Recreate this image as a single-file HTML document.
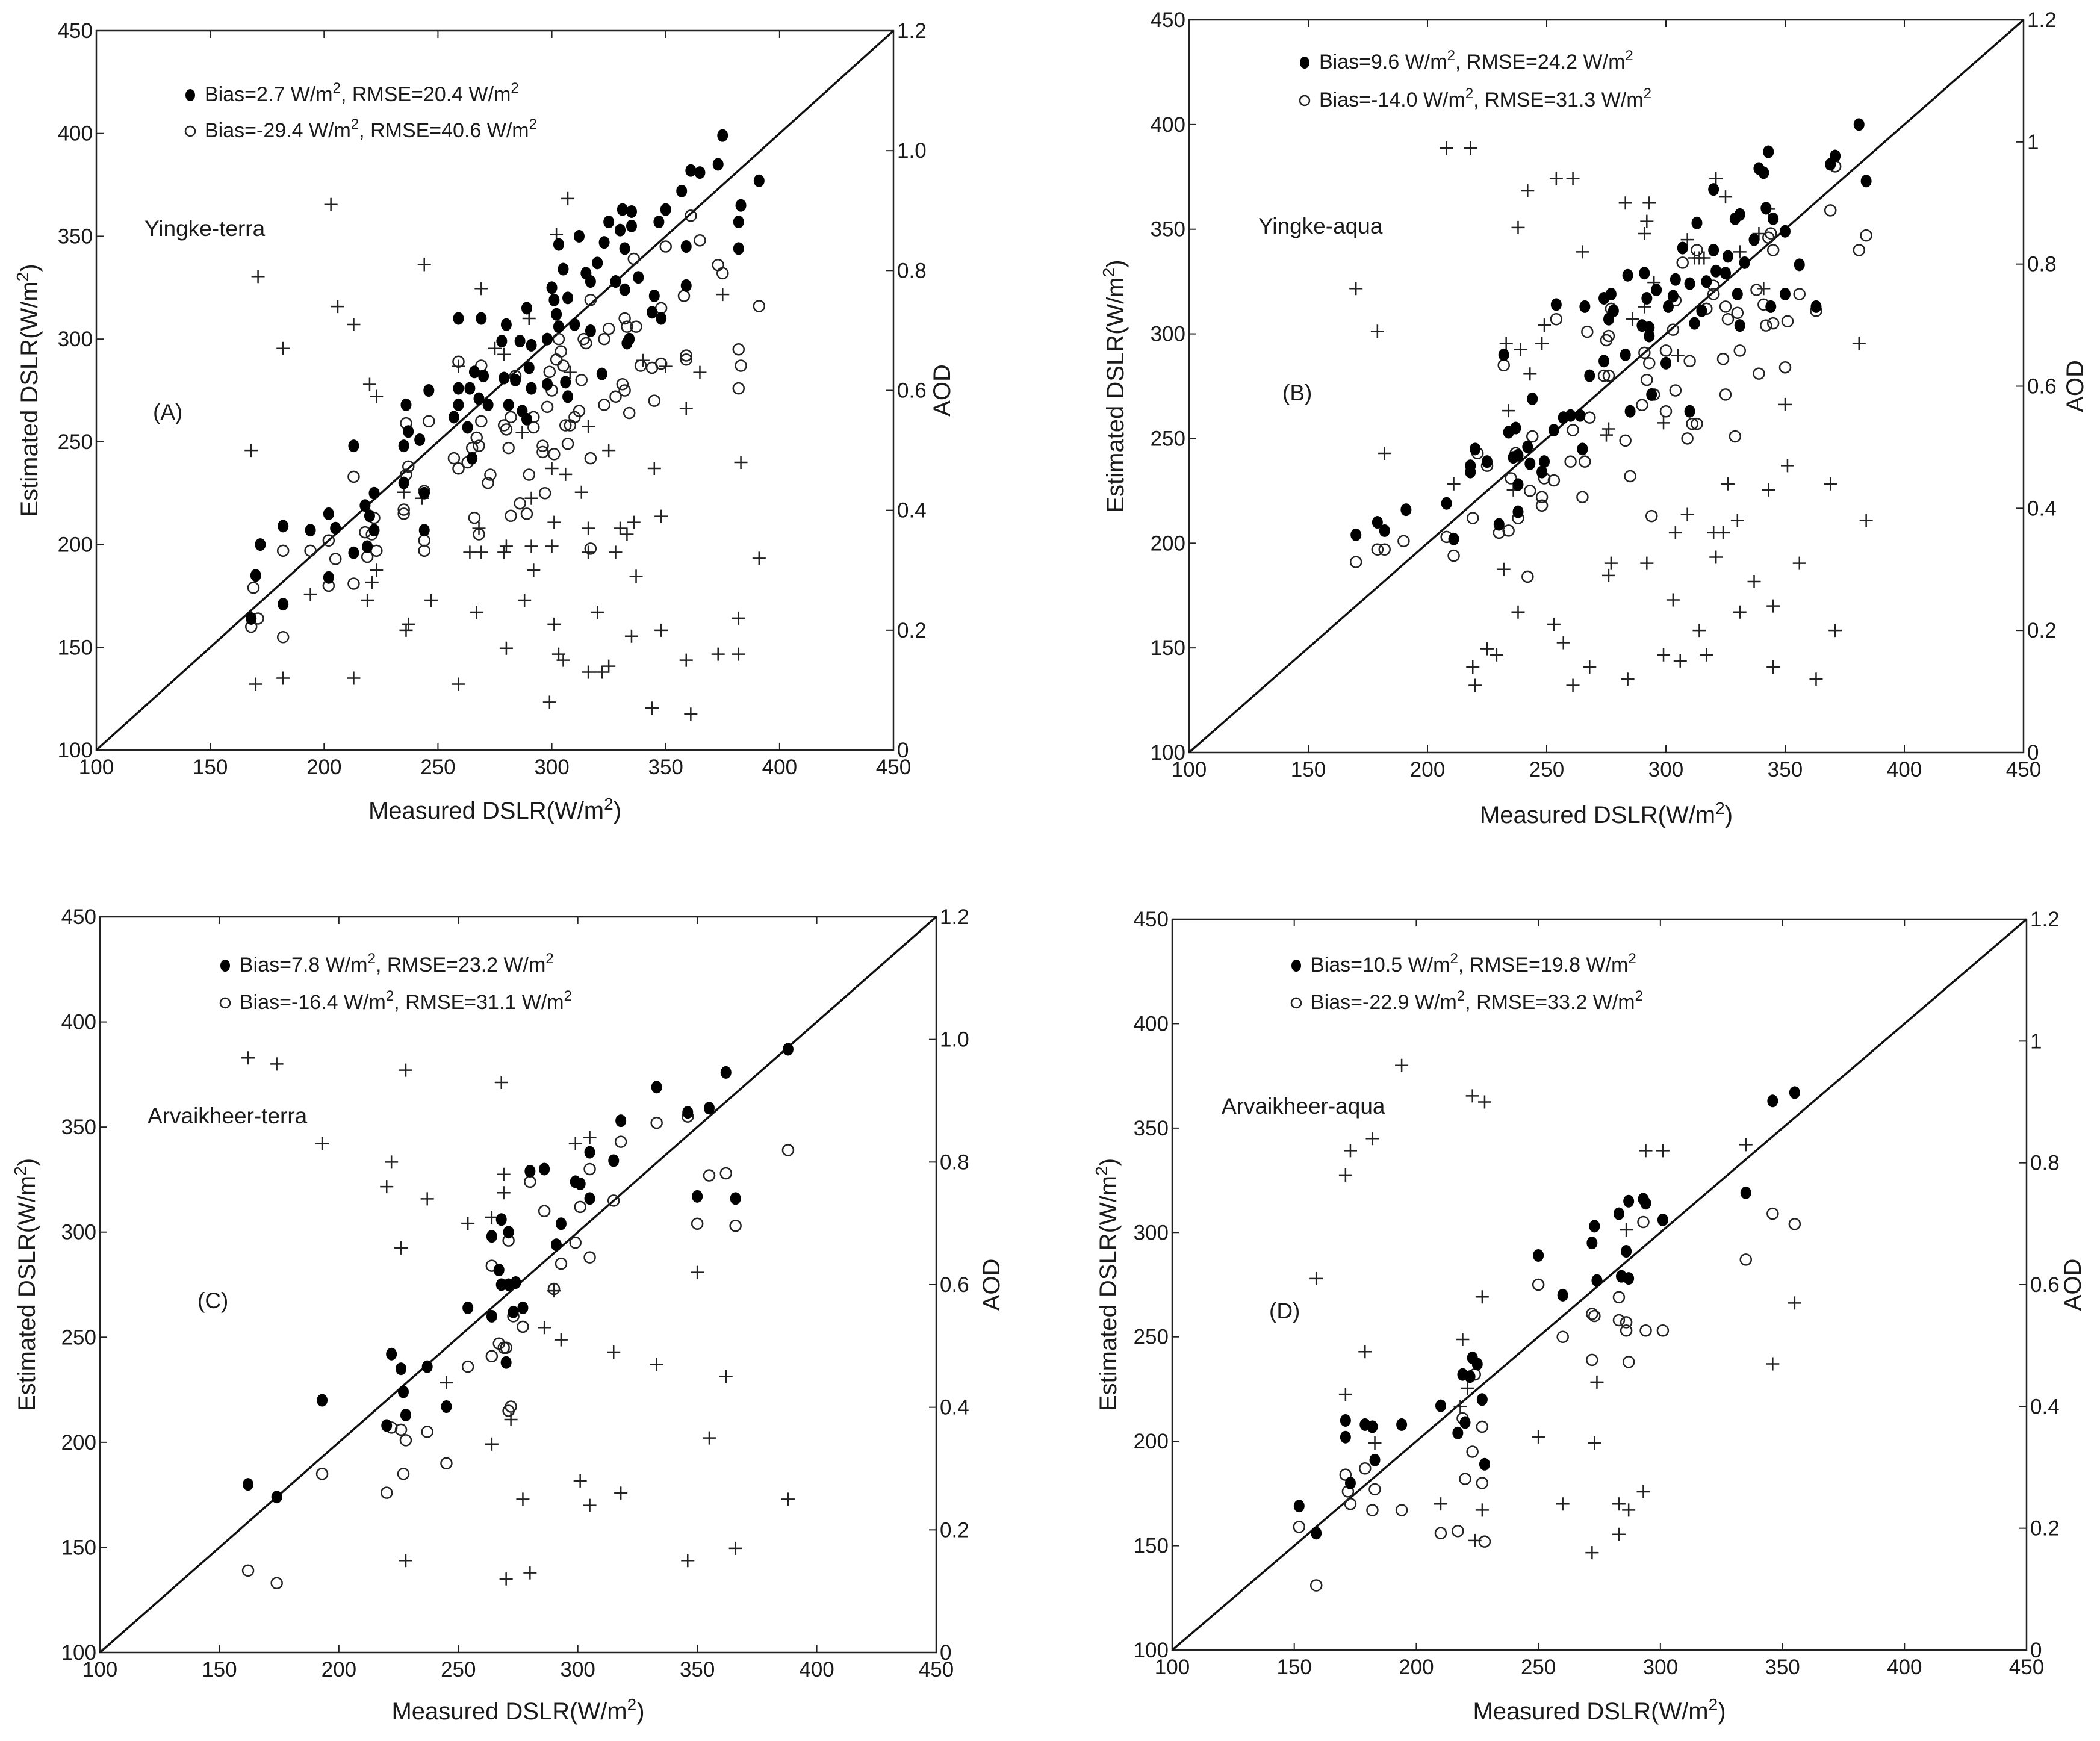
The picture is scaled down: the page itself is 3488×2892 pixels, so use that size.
<!DOCTYPE html>
<html><head><meta charset="utf-8"><style>
html,body{margin:0;padding:0;background:#fff}
svg{display:block}
text{font-family:"Liberation Sans",Arial,sans-serif;fill:#1a1a1a}
</style></head>
<body>
<svg id="chart" xmlns="http://www.w3.org/2000/svg" width="3488" height="2892" viewBox="0 0 3488 2892"></svg>
<script>
// Panel A: Yingke-terra  [measured, estimated] ; crosses [measured, AOD]
const aFilled = [[168,164],[170,185],[172,200],[182,171],[182,209],[194,207],[202,184],[202,215],[205,208],[213,196],[213,248],[218,219],[219,199],[220,214],[222,225],[222,207],[235,230],[235,248],[236,268],[237,255],[242,251],[244,225],[244,207],[246,275],[257,262],[259,276],[259,268],[259,310],[263,257],[264,276],[265,242],[266,284],[268,271],[269,310],[270,282],[272,268],[278,299],[279,281],[280,307],[281,268],[284,280],[286,299],[287,265],[289,315],[289,261],[290,286],[291,297],[291,276],[298,278],[298,300],[300,325],[301,319],[302,312],[303,306],[303,346],[305,334],[306,279],[307,272],[307,320],[310,307],[312,350],[315,332],[317,328],[317,304],[320,337],[322,283],[323,347],[325,357],[328,328],[330,353],[331,363],[332,324],[332,344],[333,298],[334,300],[335,355],[335,362],[338,330],[344,313],[345,321],[347,357],[348,310],[350,363],[357,372],[359,345],[359,326],[361,382],[365,381],[373,385],[375,399],[382,344],[382,357],[383,365],[391,377]];
const aOpen = [[168,160],[169,179],[171,164],[182,197],[182,155],[194,197],[202,202],[202,180],[205,193],[213,181],[213,233],[218,206],[219,194],[221,205],[222,213],[223,197],[235,215],[235,217],[236,234],[237,238],[236,259],[244,226],[244,202],[244,197],[246,260],[257,242],[259,237],[259,289],[263,240],[265,247],[267,252],[268,248],[269,260],[269,287],[272,230],[273,234],[266,213],[268,205],[279,258],[280,256],[281,247],[282,262],[282,214],[284,282],[286,220],[289,215],[290,234],[292,257],[292,262],[296,248],[296,245],[297,225],[298,267],[299,284],[300,275],[301,244],[302,290],[303,300],[304,294],[305,287],[306,258],[307,249],[308,258],[310,262],[312,265],[313,280],[314,300],[315,298],[317,242],[317,198],[317,319],[323,268],[323,300],[325,305],[328,272],[331,278],[332,275],[332,310],[333,306],[334,264],[336,339],[337,306],[339,287],[344,286],[345,270],[348,288],[348,315],[350,345],[358,321],[359,290],[359,292],[361,360],[365,348],[373,336],[375,332],[382,276],[382,295],[383,287],[391,316]];
const aAod = [[168,0.50],[170,0.11],[171,0.79],[182,0.67],[182,0.12],[194,0.26],[203,0.91],[206,0.74],[213,0.71],[213,0.12],[219,0.25],[220,0.61],[221,0.28],[223,0.59],[223,0.30],[235,0.43],[236,0.20],[237,0.21],[243,0.42],[244,0.81],[247,0.25],[259,0.64],[259,0.11],[264,0.33],[267,0.23],[268,0.37],[269,0.33],[269,0.77],[275,0.67],[279,0.66],[279,0.33],[280,0.17],[280,0.34],[287,0.53],[288,0.25],[290,0.72],[291,0.42],[291,0.34],[292,0.30],[299,0.08],[300,0.47],[300,0.34],[301,0.38],[301,0.21],[302,0.86],[303,0.16],[305,0.15],[306,0.46],[307,0.92],[308,0.63],[313,0.43],[316,0.37],[316,0.33],[316,0.13],[316,0.54],[320,0.23],[322,0.13],[325,0.14],[325,0.50],[328,0.33],[330,0.37],[333,0.36],[335,0.19],[336,0.38],[337,0.29],[340,0.65],[344,0.07],[345,0.47],[348,0.39],[348,0.20],[350,0.64],[359,0.57],[359,0.15],[361,0.06],[365,0.63],[373,0.16],[375,0.76],[382,0.16],[382,0.22],[383,0.48],[391,0.32]];

// Panel B: Yingke-aqua
const bFilled = [[170,204],[179,210],[182,206],[191,216],[208,219],[211,202],[218,237],[218,234],[220,245],[225,239],[230,209],[232,290],[234,253],[236,241],[237,255],[238,242],[238,228],[238,215],[242,246],[243,238],[244,269],[248,234],[249,239],[253,254],[254,314],[257,260],[260,261],[264,261],[265,245],[266,313],[268,280],[274,287],[274,317],[276,307],[277,319],[278,311],[283,290],[284,328],[285,263],[290,304],[291,329],[292,317],[293,299],[293,303],[294,271],[296,321],[300,286],[301,313],[303,318],[304,326],[307,341],[310,324],[310,263],[312,305],[313,353],[315,311],[317,325],[320,369],[320,340],[321,330],[325,329],[326,337],[329,355],[330,319],[331,304],[331,357],[333,334],[337,345],[339,379],[341,377],[342,360],[343,387],[344,313],[345,355],[350,349],[350,319],[356,333],[363,313],[369,381],[371,385],[381,400],[384,373]];
const bOpen = [[170,191],[179,197],[182,197],[190,201],[208,203],[211,194],[219,212],[221,243],[225,237],[230,205],[232,285],[234,206],[235,231],[237,243],[238,212],[242,184],[243,225],[244,251],[248,222],[248,218],[249,231],[253,230],[254,307],[260,239],[261,254],[265,222],[266,239],[267,301],[268,260],[274,280],[275,297],[276,299],[276,280],[277,312],[283,249],[285,232],[290,266],[291,291],[292,278],[293,286],[294,213],[295,271],[300,263],[300,292],[303,302],[304,273],[304,316],[307,334],[309,250],[310,287],[311,257],[313,340],[313,257],[317,312],[320,319],[320,323],[324,288],[325,313],[325,271],[326,307],[329,251],[330,310],[331,292],[338,321],[339,281],[341,314],[342,304],[343,346],[344,348],[345,340],[345,305],[350,284],[351,306],[356,319],[363,311],[369,359],[371,380],[381,340],[384,347]];
const bAod = [[170,0.76],[179,0.69],[182,0.49],[208,0.99],[218,0.99],[211,0.44],[219,0.14],[220,0.11],[225,0.17],[229,0.16],[232,0.30],[233,0.67],[234,0.56],[236,0.43],[238,0.23],[238,0.86],[239,0.66],[242,0.92],[243,0.62],[248,0.67],[249,0.70],[253,0.21],[254,0.94],[257,0.18],[261,0.94],[261,0.11],[265,0.82],[268,0.14],[275,0.52],[276,0.29],[276,0.53],[277,0.31],[283,0.90],[284,0.12],[286,0.71],[291,0.85],[291,0.73],[292,0.31],[292,0.87],[293,0.90],[295,0.77],[299,0.54],[299,0.16],[303,0.25],[304,0.36],[305,0.65],[306,0.15],[309,0.39],[309,0.84],[312,0.81],[314,0.20],[317,0.16],[320,0.36],[321,0.32],[321,0.94],[324,0.36],[325,0.91],[326,0.44],[330,0.38],[331,0.23],[331,0.82],[337,0.28],[339,0.85],[341,0.76],[343,0.43],[343,0.89],[345,0.24],[345,0.14],[350,0.57],[351,0.47],[356,0.31],[363,0.12],[369,0.44],[371,0.20],[381,0.67],[384,0.38],[314,0.81],[316,0.81]];

// Panel C: Arvaikheer-terra
const cFilled = [[162,180],[174,174],[193,220],[220,208],[222,242],[226,235],[227,224],[228,213],[237,236],[245,217],[254,264],[264,260],[264,298],[267,282],[268,306],[268,275],[270,238],[271,300],[271,275],[273,262],[274,276],[277,264],[280,329],[286,330],[291,294],[293,304],[299,324],[301,323],[305,338],[305,316],[315,334],[318,353],[333,369],[346,357],[350,317],[355,359],[362,376],[366,316],[388,387]];
const cOpen = [[162,139],[174,133],[193,185],[220,176],[222,207],[226,206],[227,185],[228,201],[237,205],[245,190],[254,236],[264,284],[264,241],[267,247],[269,245],[270,245],[271,296],[271,215],[272,217],[273,260],[277,255],[280,324],[286,310],[290,273],[293,285],[299,295],[301,312],[305,330],[305,288],[315,315],[318,343],[333,352],[346,355],[350,304],[355,327],[362,328],[366,303],[388,339]];
const cAod = [[162,0.97],[174,0.96],[193,0.83],[220,0.76],[222,0.80],[226,0.66],[228,0.95],[228,0.15],[237,0.74],[245,0.44],[254,0.70],[264,0.34],[264,0.71],[268,0.93],[269,0.75],[269,0.78],[270,0.12],[272,0.38],[277,0.25],[280,0.13],[286,0.53],[290,0.59],[293,0.51],[299,0.83],[301,0.28],[305,0.84],[305,0.24],[315,0.49],[318,0.26],[333,0.47],[346,0.15],[350,0.62],[355,0.35],[362,0.45],[366,0.17],[388,0.25]];

// Panel D: Arvaikheer-aqua
const dFilled = [[152,169],[159,156],[171,202],[171,210],[173,180],[179,208],[182,207],[183,191],[194,208],[210,217],[217,204],[219,232],[220,209],[222,231],[223,240],[225,237],[227,220],[228,189],[250,289],[260,270],[272,295],[273,303],[274,277],[283,309],[284,279],[286,291],[287,278],[287,315],[293,316],[294,314],[301,306],[335,319],[346,363],[355,367]];
const dOpen = [[152,159],[159,131],[171,184],[172,176],[173,170],[179,187],[182,167],[183,177],[194,167],[210,156],[217,157],[219,211],[220,182],[223,195],[224,232],[227,207],[227,180],[228,152],[250,275],[260,250],[272,239],[272,261],[273,260],[283,269],[283,258],[286,253],[286,257],[287,238],[293,305],[294,253],[301,253],[335,287],[346,309],[355,304]];
const dAod = [[159,0.61],[171,0.78],[171,0.42],[173,0.82],[179,0.49],[182,0.84],[183,0.34],[194,0.96],[210,0.24],[218,0.40],[219,0.51],[221,0.43],[223,0.91],[224,0.18],[227,0.58],[227,0.23],[228,0.90],[250,0.35],[260,0.24],[272,0.16],[273,0.34],[274,0.44],[283,0.24],[283,0.19],[286,0.69],[287,0.23],[293,0.26],[294,0.82],[301,0.82],[335,0.83],[346,0.47],[355,0.57]];

const xTicks = [100,150,200,250,300,350,400,450];
const yTicks = [100,150,200,250,300,350,400,450];
const aodTicksA = ["0","0.2","0.4","0.6","0.8","1.0","1.2"];
const aodTicksB = ["0","0.2","0.4","0.6","0.8","1","1.2"];
const legendA = ["Bias=2.7 W/m", "RMSE=20.4 W/m", "Bias=-29.4 W/m", "RMSE=40.6 W/m"];
const legendB = ["Bias=9.6 W/m", "RMSE=24.2 W/m", "Bias=-14.0 W/m", "RMSE=31.3 W/m"];
const legendC = ["Bias=7.8 W/m", "RMSE=23.2 W/m", "Bias=-16.4 W/m", "RMSE=31.1 W/m"];
const legendD = ["Bias=10.5 W/m", "RMSE=19.8 W/m", "Bias=-22.9 W/m", "RMSE=33.2 W/m"];

const NS = "http://www.w3.org/2000/svg";
const svg = document.getElementById('chart');
function mk(tag, attrs, parent){const e=document.createElementNS(NS,tag);for(const k in attrs)e.setAttribute(k,attrs[k]);(parent||svg).appendChild(e);return e;}

const panels = [
 {id:'a',L:160,R:1484,T:51,B:1246,filled:aFilled,open:aOpen,aod:aAod,aodT:aodTicksA,leg:legendA,legX:316,legY:[168,228],site:'Yingke-terra',siteXY:[240,392],tag:'(A)',tagXY:[254,697],xtY:1360,ytX:62,aodX:1578},
 {id:'b',L:1975,R:3361,T:33,B:1250,filled:bFilled,open:bOpen,aod:bAod,aodT:aodTicksB,leg:legendB,legX:2167,legY:[114,177],site:'Yingke-aqua',siteXY:[2090,388],tag:'(B)',tagXY:[2130,665],xtY:1367,ytX:1866,aodX:3460},
 {id:'c',L:166,R:1555,T:1523,B:2745,filled:cFilled,open:cOpen,aod:cAod,aodT:aodTicksA,leg:legendC,legX:374,legY:[1614,1676],site:'Arvaikheer-terra',siteXY:[245,1866],tag:'(C)',tagXY:[328,2173],xtY:2856,ytX:58,aodX:1660},
 {id:'d',L:1947,R:3366,T:1527,B:2741,filled:dFilled,open:dOpen,aod:dAod,aodT:aodTicksB,leg:legendD,legX:2153,legY:[1614,1676],site:'Arvaikheer-aqua',siteXY:[2029,1850],tag:'(D)',tagXY:[2108,2190],xtY:2856,ytX:1854,aodX:3456}
];

function legendText(g,x,y,t1,t2,name){
  const t=mk('text',{x:x,y:y,'font-size':34,textLength:0},g);
  t.removeAttribute('textLength');
  
  
  t.appendChild(document.createTextNode(t1));
  const s1=mk('tspan',{dy:-14,'font-size':24},t); s1.textContent='2';
  const r=mk('tspan',{dy:14},t); r.textContent=', '+t2;
  const s2=mk('tspan',{dy:-14,'font-size':24},t); s2.textContent='2';
}

panels.forEach(p=>{
  const g=mk('g',{});
  
  
  const sx=v=>p.L+(v-100)/350*(p.R-p.L);
  const sy=v=>p.B-(v-100)/350*(p.B-p.T);
  const sa=v=>p.B-v/1.2*(p.B-p.T);
  // frame
  const fr=mk('rect',{x:p.L,y:p.T,width:p.R-p.L,height:p.B-p.T,fill:'none',stroke:'#222','stroke-width':2.5},g);
  
  
  // ticks
  xTicks.forEach(v=>{
    mk('line',{x1:sx(v),x2:sx(v),y1:p.B,y2:p.B-12,stroke:'#222','stroke-width':2},g);
    mk('line',{x1:sx(v),x2:sx(v),y1:p.T,y2:p.T+12,stroke:'#222','stroke-width':2},g);
    const t=mk('text',{x:sx(v),y:p.B+40,'font-size':35,'text-anchor':'middle'},g);
    
    
    t.textContent=v;
  });
  yTicks.forEach(v=>{
    mk('line',{x1:p.L,x2:p.L+12,y1:sy(v),y2:sy(v),stroke:'#222','stroke-width':2},g);
    const t=mk('text',{x:p.L-6,y:sy(v)+12,'font-size':35,'text-anchor':'end'},g);
    
    
    t.textContent=v;
  });
  p.aodT.forEach((lab,i)=>{
    const v=i*0.2;
    mk('line',{x1:p.R,x2:p.R-12,y1:sa(v),y2:sa(v),stroke:'#222','stroke-width':2},g);
    const t=mk('text',{x:p.R+6,y:sa(v)+12,'font-size':35},g);
    
    
    t.textContent=lab;
  });
  // 1:1 line
  const ln=mk('line',{x1:sx(100),y1:sy(100),x2:sx(450),y2:sy(450),stroke:'#111','stroke-width':3.5},g);
  
  
  // crosses
  p.aod.forEach(d=>{
    const x=sx(d[0]),y=sa(d[1]);
    const c=mk('path',{d:`M${x-11} ${y}H${x+11}M${x} ${y-11}V${y+11}`,stroke:'#222','stroke-width':2.5,fill:'none'},g);
    
    
  });
  p.open.forEach(d=>{
    const c=mk('circle',{cx:sx(d[0]),cy:sy(d[1]),r:9,fill:'none',stroke:'#222','stroke-width':2.5},g);
    
    
  });
  p.filled.forEach(d=>{
    const c=mk('ellipse',{cx:sx(d[0]),cy:sy(d[1]),rx:9,ry:10.5,fill:'#000'},g);
    
    
  });
  // legend
  const lf=mk('ellipse',{cx:p.legX,cy:p.legY[0]-10,rx:8,ry:10,fill:'#000'},g);
  
  
  const lo=mk('circle',{cx:p.legX,cy:p.legY[1]-10,r:8,fill:'none',stroke:'#222','stroke-width':2.5},g);
  
  
  legendText(g,p.legX+24,p.legY[0],p.leg[0],p.leg[1],'legend-entry-filled');
  legendText(g,p.legX+24,p.legY[1],p.leg[2],p.leg[3],'legend-entry-open');
  // annotations
  const st=mk('text',{x:p.siteXY[0],y:p.siteXY[1],'font-size':37},g);
  
  
  st.textContent=p.site;
  const tg=mk('text',{x:p.tagXY[0],y:p.tagXY[1],'font-size':37},g);
  
  
  tg.textContent=p.tag;
  // axis titles
  const xt=mk('text',{x:(p.L+p.R)/2,y:p.xtY,'font-size':40,'text-anchor':'middle'},g);
  
  
  xt.appendChild(document.createTextNode('Measured DSLR(W/m'));
  let s=mk('tspan',{dy:-15,'font-size':28},xt); s.textContent='2';
  s=mk('tspan',{dy:15},xt); s.textContent=')';
  const cy=(p.T+p.B)/2;
  const yt=mk('text',{x:p.ytX,y:cy,'font-size':40,'text-anchor':'middle',transform:`rotate(-90 ${p.ytX} ${cy})`},g);
  
  
  yt.appendChild(document.createTextNode('Estimated DSLR(W/m'));
  s=mk('tspan',{dy:-15,'font-size':28},yt); s.textContent='2';
  s=mk('tspan',{dy:15},yt); s.textContent=')';
  const at=mk('text',{x:p.aodX,y:cy,'font-size':40,'text-anchor':'middle',transform:`rotate(-90 ${p.aodX} ${cy})`},g);
  
  
  at.textContent='AOD';
});
</script>
</body></html>
